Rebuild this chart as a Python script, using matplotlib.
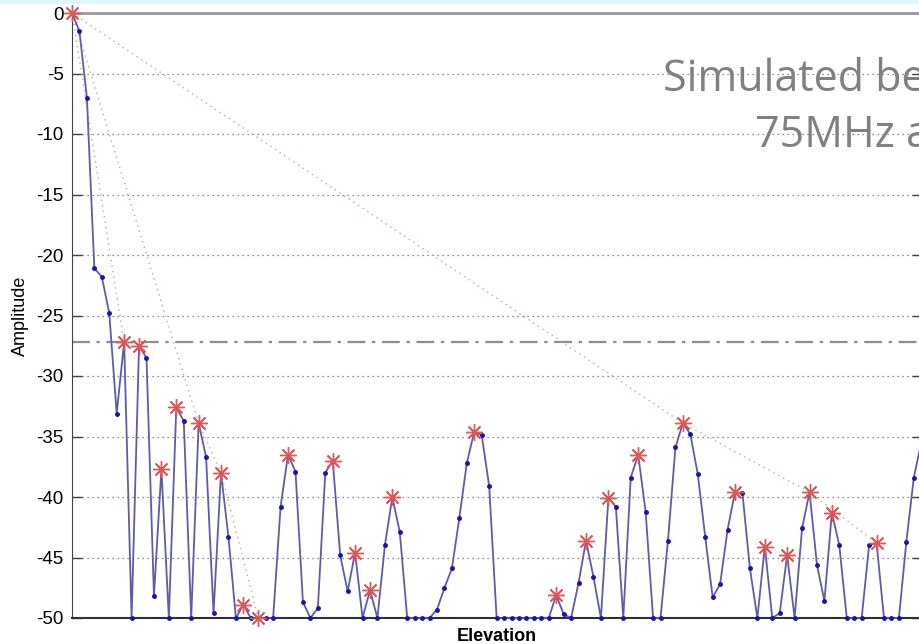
import numpy as np
import matplotlib
matplotlib.use('Agg')
import matplotlib.pyplot as plt
from matplotlib.patches import Rectangle

# beam pattern samples (dB), one per elevation step
amplitude = [0, -1.5, -7.0, -21.1, -21.8, -24.8, -33.1, -27.2, -50, -27.5,
             -28.5, -48.2, -37.7, -50, -32.6, -33.7, -50, -33.9, -36.7, -49.6,
             -38.0, -43.3, -50, -48.9, -50, -50, -50, -50, -40.8, -36.5,
             -37.9, -48.7, -50, -49.2, -38.0, -37.0, -44.8, -47.8, -44.6, -50,
             -47.7, -50, -44.0, -40.0, -42.9, -50, -50, -50, -50, -49.3,
             -47.5, -45.9, -41.7, -37.2, -34.6, -34.9, -39.1, -50, -50, -50,
             -50, -50, -50, -50, -50, -48.1, -49.7, -50, -47.1, -43.6,
             -46.6, -50, -40.1, -40.8, -50, -38.4, -36.5, -41.2, -50, -50,
             -43.6, -35.9, -33.9, -34.8, -38.1, -43.3, -48.3, -47.2, -42.7, -39.6,
             -39.7, -45.9, -50, -44.1, -50, -49.6, -44.8, -50, -42.6, -39.6,
             -45.6, -48.6, -41.3, -44.0, -50, -50, -50, -44.0, -43.8, -50,
             -50, -50, -43.7, -38.4, -35.5]

# detected lobe peaks (sample indices)
peaks = [0, 7, 9, 12, 14, 17, 20, 23, 25, 29, 35, 38, 40, 43, 54, 65, 69,
         72, 76, 82, 89, 93, 96, 99, 102, 108]

# peak-to-peak envelopes
envelopes = [[0, 7], [0, 17, 20, 25], [0, 82, 99, 108]]

sidelobe_level = -27.2
yticks = [0, -5, -10, -15, -20, -25, -30, -35, -40, -45, -50]
title_lines = ["Simulated beam", "75MHz and"]

plt.rcParams['font.family'] = ['Liberation Sans', 'DejaVu Sans']
plt.rcParams['axes.unicode_minus'] = False

amp = np.array(amplitude)
x = np.arange(len(amp))

fig = plt.figure(figsize=(9.19, 6.44), dpi=100)
fig.patches.append(Rectangle((0, 1 - 3 / 644), 1, 3 / 644, transform=fig.transFigure,
                             color='#e2f7fb', zorder=0))

ax = fig.add_axes([72 / 919, 26 / 644, 850 / 919, 605 / 644])
ax.set_xlim(0, 114.1)
ax.set_ylim(-50, 0)

for yv in yticks[1:-1]:
    ax.axhline(yv, color='#6a6a6a', lw=0.9, ls=(0, (1, 3)), zorder=1)

ax.axhline(sidelobe_level, color='#8c8c8c', lw=1.6, ls=(0, (8, 3, 1.5, 3)), zorder=2)

for env in envelopes:
    ax.plot(x[env], amp[env], color='#cda58e', lw=1.0, ls=(0, (1, 3)), zorder=2)

ax.plot(x, amp, '-', color='#5c5cab', lw=1.3, zorder=3, clip_on=False)
ax.plot(x, amp, '.', color='#1515a8', ms=5, zorder=4, clip_on=False)
ax.plot(x[peaks], amp[peaks], ls='none', marker=(8, 2, 0), ms=12, mew=1.0,
        color='#e25555', zorder=5, clip_on=False)

ax.set_yticks(yticks)
ax.set_yticklabels([str(v) for v in yticks])
ax.set_xticks([])
ax.tick_params(axis='y', direction='in', length=7, width=1, right=True,
               labelsize=13.5, pad=6, color='#404040')

ax.spines['top'].set_color('#9a9a9a')
ax.spines['top'].set_linewidth(2)
ax.spines['bottom'].set_color('#303030')
ax.spines['bottom'].set_linewidth(1.5)
ax.spines['left'].set_color('#404040')
ax.spines['right'].set_color('#404040')

ax.set_ylabel('Amplitude', fontsize=13, labelpad=5)
ax.set_xlabel('Elevation', fontsize=13, fontweight='bold', labelpad=7)

fig.text(663 / 919, 1 - 91 / 644, title_lines[0], family='Open Sans', fontsize=31,
         color='#808080', ha='left', va='baseline')
fig.text(755 / 919, 1 - 147 / 644, title_lines[1], family='Open Sans', fontsize=31,
         color='#808080', ha='left', va='baseline')

fig.savefig('out.png', dpi=100)
